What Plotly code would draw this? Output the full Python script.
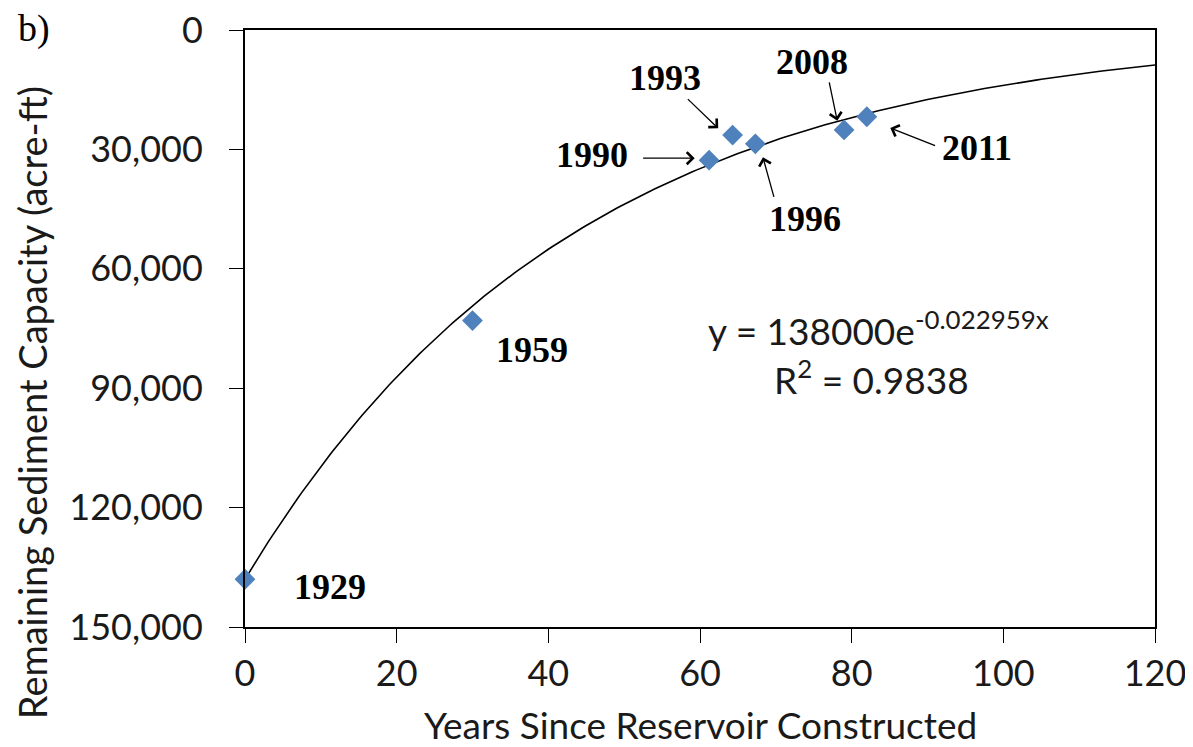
import numpy as np
import plotly.graph_objects as go

# Survey data
survey_years = ["1929", "1959", "1990", "1993", "1996", "2008", "2011"]
years_since = [0, 30, 61.2, 64.3, 67.3, 79.0, 82.0]
capacity = [138000, 73000, 32700, 26400, 28600, 25100, 21800]

# Exponential trendline coefficients (as printed on chart)
fit_a = 138000
fit_k = 0.022959
r_squared = 0.9838

x_ticks = [0, 20, 40, 60, 80, 100, 120]
y_ticks = [0, 30000, 60000, 90000, 120000, 150000]

trend_x = np.linspace(0, 120, 241)
trend_y = fit_a * np.exp(-fit_k * trend_x)

TXT = "#1a1a1a"

fig = go.Figure()
fig.add_trace(go.Scatter(x=trend_x, y=trend_y, mode="lines",
                         line=dict(color="black", width=1.6),
                         hoverinfo="skip", showlegend=False))
fig.add_trace(go.Scatter(x=years_since, y=capacity, mode="markers",
                         marker=dict(symbol="diamond", size=16, color="#4F81BD"),
                         cliponaxis=False, showlegend=False))

label_font = dict(family="Liberation Serif", size=36, color="black")

# Plain labels (no arrow)
fig.add_annotation(x=11.2, y=140000, text="<b>1929</b>", showarrow=False, font=label_font)
fig.add_annotation(x=37.8, y=80400, text="<b>1959</b>", showarrow=False, font=label_font)

# Labels with arrows: (text, text_x, text_y, tail_x, tail_y, head_x, head_y)
arrow_labels = [
    ("1990", 45.8, 31400, 52.3, 32200, 59.3, 32200),
    ("1993", 55.4, 12100, 58.2, 17000, 62.4, 24700),
    ("1996", 73.8, 47500, 69.8, 42300, 68.3, 32000),
    ("2008", 74.8, 8000, 77.0, 12800, 78.1, 22800),
    ("2011", 96.5, 29600, 91.2, 29200, 85.1, 24600),
]
for t, tx, ty, ax_, ay_, hx, hy in arrow_labels:
    fig.add_annotation(x=tx, y=ty, text="<b>" + t + "</b>", showarrow=False, font=label_font)
    fig.add_annotation(x=hx, y=hy, ax=ax_, ay=ay_, axref="x", ayref="y", text="",
                       showarrow=True, arrowhead=4, arrowsize=1.8, arrowwidth=1.3,
                       arrowcolor="black")

eq_font = dict(family="Lato", size=37, color=TXT)
fig.add_annotation(x=60.8, y=74800, text="y = 138000e<sup>-0.022959x</sup>",
                   showarrow=False, font=eq_font, xanchor="left")
fig.add_annotation(x=82.6, y=87200, text="R<sup>2</sup> = %.4f" % r_squared,
                   showarrow=False, font=eq_font)

# Panel label
fig.add_annotation(x=-0.2516, y=1.003, xref="paper", yref="paper", xanchor="left", yanchor="middle",
                   text="b)", showarrow=False,
                   font=dict(family="Liberation Serif", size=38, color="black"))

# Axis titles
fig.add_annotation(x=-0.234, y=0.375, xref="paper", yref="paper", textangle=-90,
                   xanchor="center", yanchor="middle",
                   text="Remaining Sediment Capacity (acre-ft)", showarrow=False,
                   font=dict(family="Lato", size=38, color=TXT))
fig.add_annotation(x=0.5, y=-0.164, xref="paper", yref="paper",
                   xanchor="center", yanchor="middle",
                   text="Years Since Reservoir Constructed", showarrow=False,
                   font=dict(family="Lato", size=37, color=TXT))

axis_common = dict(showline=True, linecolor="black", linewidth=2, mirror=True,
                   ticks="outside", ticklen=14, tickcolor="black", tickwidth=1,
                   showgrid=False, zeroline=False, automargin=False,
                   ticklabeloverflow="allow",
                   tickfont=dict(family="Lato", size=36, color=TXT))

fig.update_xaxes(range=[0, 120], tickvals=x_ticks, **axis_common)
fig.update_yaxes(range=[150000, 0], tickvals=y_ticks, tickformat=",",
                 ticklabelstandoff=19, **axis_common)

# The page body adds an 8px offset, so the figure is drawn 8px smaller
fig.update_layout(width=1185, height=739, margin=dict(l=237, r=38, t=22, b=120),
                  plot_bgcolor="white", paper_bgcolor="white")

fig.write_html("out.html")
